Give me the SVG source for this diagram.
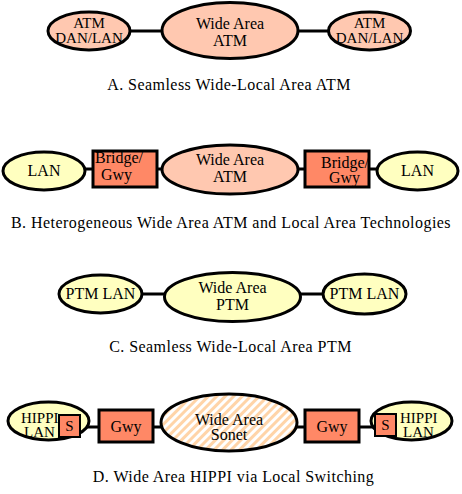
<svg xmlns="http://www.w3.org/2000/svg" width="462" height="494" viewBox="0 0 462 494" font-family="'Liberation Serif', 'Times New Roman', serif">
<defs>
<pattern id="hatch" patternUnits="userSpaceOnUse" width="6" height="6" patternTransform="rotate(45)">
<rect width="6" height="6" fill="#ffffff"/>
<rect width="3" height="6" fill="#ffd4a8"/>
</pattern>
</defs>
<style>
.sal{fill:#ffc8b0;stroke:#000;stroke-width:3}
.yel{fill:#ffffc0;stroke:#000;stroke-width:3}
.box{fill:#ff8866;stroke:#000;stroke-width:3}
.sbox{fill:#ff8866;stroke:#000;stroke-width:2}
.hat{fill:url(#hatch);stroke:#000;stroke-width:3}
.ln{stroke:#000;stroke-width:3;fill:none}
text{font-family:'Liberation Serif','Times New Roman',serif;font-size:16px;fill:#000}
.c{text-anchor:middle}
.sm{font-size:15px}
.cap{text-anchor:middle;letter-spacing:0.45px}
</style>
<rect width="462" height="494" fill="#ffffff"/>
<g id="connectors">
<line class="ln" x1="130" y1="31" x2="162" y2="31"/>
<line class="ln" x1="298" y1="31" x2="328" y2="31"/>
<line class="ln" x1="85" y1="169" x2="93" y2="169"/>
<line class="ln" x1="157" y1="169" x2="162" y2="169"/>
<line class="ln" x1="298" y1="169" x2="305" y2="169"/>
<line class="ln" x1="369" y1="169" x2="377" y2="169"/>
<line class="ln" x1="142" y1="294" x2="164" y2="294"/>
<line class="ln" x1="301" y1="294" x2="323" y2="294"/>
<line class="ln" x1="80" y1="427" x2="99" y2="427"/>
<line class="ln" x1="153" y1="427" x2="161" y2="427"/>
<line class="ln" x1="297" y1="427" x2="305" y2="427"/>
<line class="ln" x1="359" y1="427" x2="375" y2="427"/>
</g>
<g id="a-left">
<ellipse class="sal" cx="89" cy="31" rx="41" ry="19"/>
<text class="c sm" x="89" y="28">ATM</text>
<text class="c sm" x="89" y="43">DAN/LAN</text>
</g>
<g id="a-mid">
<ellipse class="sal" cx="230" cy="30.5" rx="68" ry="28"/>
<text class="c" x="230" y="29">Wide Area</text>
<text class="c" x="230" y="46">ATM</text>
</g>
<g id="a-right">
<ellipse class="sal" cx="369.5" cy="31" rx="41" ry="19"/>
<text class="c sm" x="369.5" y="28">ATM</text>
<text class="c sm" x="369.5" y="43">DAN/LAN</text>
</g>
<text class="cap" x="229" y="90">A. Seamless Wide-Local Area ATM</text>
<g id="b-left">
<ellipse class="yel" cx="44" cy="171" rx="41" ry="19"/>
<text class="c" x="44" y="176">LAN</text>
</g>
<g id="b-box1">
<rect class="box" x="93" y="151" width="64" height="36"/>
<text x="95" y="163">Bridge/</text>
<text x="101" y="180">Gwy</text>
</g>
<g id="b-mid">
<ellipse class="sal" cx="230" cy="169.5" rx="68" ry="24.5"/>
<text class="c" x="230" y="165">Wide Area</text>
<text class="c" x="230" y="182">ATM</text>
</g>
<g id="b-box2">
<rect class="box" x="305" y="151" width="64" height="36"/>
<text x="321" y="168">Bridge/</text>
<text x="329" y="183">Gwy</text>
</g>
<g id="b-right">
<ellipse class="yel" cx="417.5" cy="171" rx="40.5" ry="19"/>
<text class="c" x="417.5" y="176">LAN</text>
</g>
<text class="cap" x="231" y="228">B. Heterogeneous Wide Area ATM and Local Area Technologies</text>
<g id="c-left">
<ellipse class="yel" cx="100.5" cy="294" rx="41.5" ry="19"/>
<text class="c" x="100.5" y="299">PTM LAN</text>
</g>
<g id="c-mid">
<ellipse class="yel" cx="232.5" cy="297" rx="68" ry="24.5"/>
<text class="c" x="232.5" y="293">Wide Area</text>
<text class="c" x="232.5" y="310">PTM</text>
</g>
<g id="c-right">
<ellipse class="yel" cx="364.5" cy="294" rx="41.5" ry="20"/>
<text class="c" x="364.5" y="299">PTM LAN</text>
</g>
<text class="cap" x="230.5" y="352">C. Seamless Wide-Local Area PTM</text>
<g id="d-left">
<ellipse class="yel" cx="48.5" cy="421" rx="40.5" ry="19"/>
<text class="sm" x="21" y="423">HIPPI</text>
<text class="sm" x="24" y="437">LAN</text>
</g>
<g id="d-s1">
<rect class="sbox" x="59" y="415" width="21" height="22"/>
<text class="c sm" x="69.5" y="431">S</text>
</g>
<g id="d-gwy1">
<rect class="box" x="99" y="410" width="54" height="32"/>
<text class="c" x="126" y="432">Gwy</text>
</g>
<g id="d-mid">
<ellipse class="hat" cx="229" cy="422.5" rx="68" ry="28.5"/>
<text class="c" x="229" y="425">Wide Area</text>
<text class="c" x="229" y="440">Sonet</text>
</g>
<g id="d-gwy2">
<rect class="box" x="305" y="410" width="54" height="32"/>
<text class="c" x="332" y="432">Gwy</text>
</g>
<g id="d-right">
<ellipse class="yel" cx="411.5" cy="421" rx="40.5" ry="19"/>
<text class="sm" x="400" y="423">HIPPI</text>
<text class="sm" x="403" y="437">LAN</text>
</g>
<g id="d-s2">
<rect class="sbox" x="375" y="414" width="21" height="22"/>
<text class="c sm" x="385.5" y="430">S</text>
</g>
<text class="cap" x="233.5" y="482">D. Wide Area HIPPI via Local Switching</text>
</svg>
